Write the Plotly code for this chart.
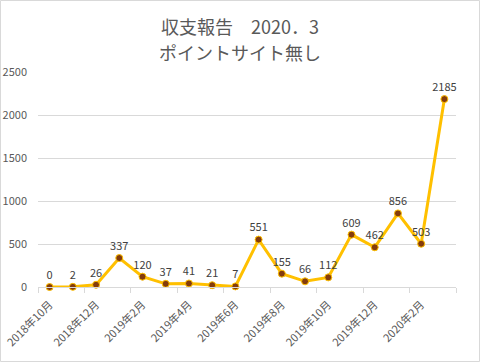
import plotly.graph_objects as go

months = ["2018年10月", "2018年11月", "2018年12月", "2019年1月", "2019年2月", "2019年3月",
          "2019年4月", "2019年5月", "2019年6月", "2019年7月", "2019年8月", "2019年9月",
          "2019年10月", "2019年11月", "2019年12月", "2020年1月", "2020年2月", "2020年3月"]
values = [0, 2, 26, 337, 120, 37, 41, 21, 7, 551, 155, 66, 112, 609, 462, 856, 503, 2185]
y_ticks = [0, 500, 1000, 1500, 2000, 2500]
title_lines = ["収支報告　2020．3", "ポイントサイト無し"]

FONT = "Noto Sans CJK JP"
xs = list(range(len(months)))
label_idx = [i for i in xs[::2] if i < len(months) - 1]

fig = go.Figure()
fig.add_trace(go.Scatter(
    x=xs, y=values,
    mode="lines+markers+text",
    text=[str(v) for v in values],
    textposition="top center",
    textfont=dict(family=FONT, size=11, color="#404040"),
    line=dict(color="#FFC000", width=3),
    marker=dict(size=7, color="#843C0C", line=dict(color="#FFC000", width=1)),
    cliponaxis=False,
    hoverinfo="skip",
))

W, H = 480, 362
ml, mr, mt, mb = 38, 24, 72, 75
pw, ph = W - ml - mr, H - mt - mb

annotations = []
for line, ypx in zip(title_lines, [26, 52]):
    annotations.append(dict(
        text=line, xref="paper", yref="paper",
        x=(240 - ml) / pw, y=1 + (mt - ypx) / ph,
        xanchor="center", yanchor="middle", showarrow=False,
        font=dict(family=FONT, size=18, color="#595959"),
    ))

fig.update_layout(
    width=W, height=H,
    margin=dict(l=ml, r=mr, t=mt, b=mb, autoexpand=False),
    paper_bgcolor="white", plot_bgcolor="white",
    showlegend=False,
    annotations=annotations,
    xaxis=dict(
        range=[-0.5, len(months) - 0.5],
        tickmode="array",
        tickvals=label_idx,
        ticktext=[months[i] for i in label_idx],
        tickangle=-45,
        ticks="",
        showgrid=False,
        zeroline=False,
        automargin=False,
        ticklabelstandoff=6,
        showline=True, linecolor="#D9D9D9", linewidth=1,
        tickfont=dict(family=FONT, size=11, color="#595959"),
        minor=dict(tickvals=[i - 0.5 for i in range(0, len(months) + 1, 2)],
                   ticks="outside", ticklen=5, tickcolor="#D9D9D9", showgrid=False),
    ),
    yaxis=dict(
        range=[0, 2500],
        tickmode="array",
        tickvals=y_ticks,
        showgrid=True, gridcolor="#D9D9D9", gridwidth=1,
        zeroline=False,
        showline=False,
        ticks="",
        automargin=False,
        ticklabelstandoff=10,
        tickfont=dict(family=FONT, size=11, color="#595959"),
    ),
    shapes=[dict(
        type="rect", xref="paper", yref="paper",
        x0=(-ml + 0.5) / pw, x1=1 + (mr - 0.5) / pw,
        y0=(-mb + 0.5) / ph, y1=1 + (mt - 0.5) / ph,
        line=dict(color="#D9D9D9", width=1), fillcolor="rgba(0,0,0,0)",
        layer="below",
    )],
)

fig.write_html("out.html", config={"displayModeBar": False},
               post_script="document.body.style.margin='0';document.body.style.overflow='hidden';")
